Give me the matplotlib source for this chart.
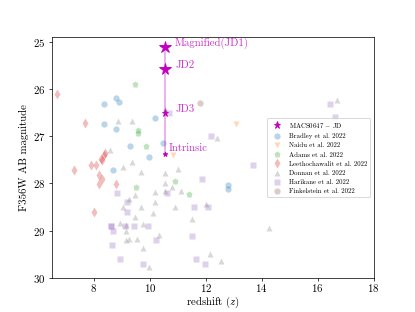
import matplotlib
matplotlib.use('Agg')
import matplotlib.pyplot as plt

plt.rcParams['font.family'] = 'serif'
plt.rcParams['font.serif'] = ['cmr10']
plt.rcParams['mathtext.fontset'] = 'cm'
plt.rcParams['axes.formatter.use_mathtext'] = True

# MACS0647-JD
jd_z = [10.56, 10.56, 10.56, 10.56]
jd_mag = [25.11, 25.56, 26.50, 27.37]
jd_names = ['Magnified(JD1)', 'JD2', 'JD3', 'Intrinsic']

bradley_z = [8.79, 8.89, 8.38, 8.38, 8.79, 10.19, 9.29, 9.99, 10.48, 8.68, 12.79, 12.79]
bradley_mag = [26.18, 26.27, 26.32, 26.73, 26.84, 26.60, 27.20, 27.44, 27.14, 27.71, 28.03, 28.12]

naidu_z = [13.1, 10.83]
naidu_mag = [26.74, 27.39]

adams_z = [9.49, 9.57, 9.57, 9.85, 9.50, 10.92, 11.40]
adams_mag = [25.88, 26.87, 26.92, 27.21, 28.08, 27.95, 28.23]

leetho_z = [6.69, 7.69, 8.37, 8.40, 8.27, 8.29, 7.29, 7.89, 8.08, 8.19, 8.29, 8.19, 8.79, 7.99]
leetho_mag = [26.11, 26.72, 27.39, 27.36, 27.49, 27.51, 27.71, 27.61, 27.61, 27.81, 27.91, 28.02, 28.02, 28.60]

donnan_z = [8.85, 9.35, 10.54, 12.42, 16.71, 8.57, 9.04, 9.35, 9.67, 10.56, 11.01, 10.56,
            10.80, 10.56, 11.13, 10.20, 9.25, 9.46, 10.20, 9.68, 9.05, 10.89, 12.00, 9.46,
            10.10, 11.51, 8.95, 9.14, 9.14, 9.76, 10.33, 9.14, 9.25, 9.55, 9.76, 9.99,
            12.14, 12.54, 14.26]
donnan_mag = [26.68, 26.68, 26.41, 27.04, 26.22, 27.30, 27.64, 27.54, 27.76, 27.78, 27.69, 28.00,
              28.08, 28.15, 28.15, 28.18, 28.32, 28.25, 28.40, 28.50, 28.50, 28.50, 28.43, 28.71,
              28.62, 28.75, 28.84, 28.89, 29.00, 28.85, 29.10, 29.20, 29.17, 29.17, 29.37, 29.77,
              29.49, 29.65, 28.95]

harikane_z = [10.68, 12.20, 16.44, 16.64, 13.69, 11.87, 12.08, 11.99, 10.63, 11.57, 11.51, 10.21,
              11.67, 8.83, 9.20, 9.20, 8.61, 8.63, 8.69, 9.10, 9.44, 9.94, 8.65, 8.95, 9.76]
harikane_mag = [26.50, 27.00, 26.31, 26.58, 27.61, 27.91, 28.51, 29.71, 28.21, 28.51, 29.11, 29.21,
                29.60, 28.20, 28.40, 28.60, 28.91, 28.90, 29.01, 28.91, 28.91, 28.91, 29.30, 29.60, 29.71]

finkel_z = [11.79]
finkel_mag = [26.30]

fig = plt.figure(figsize=(415 / 65, 312 / 65), dpi=65)
ax = fig.add_subplot(111)

ax.plot(jd_z, jd_mag, '-', color='m', alpha=0.3, lw=2.2, zorder=3)
star_sizes = [14, 13, 8, 5.5]
for z, m, s in zip(jd_z, jd_mag, star_sizes):
    ax.plot(z, m, '*', color='m', ms=s, zorder=4)
ax.plot([], [], '*', color='m', ms=8, label=r'MACS0647 $-$ JD')

offsets = [(0.33, -0.09), (0.38, -0.08), (0.36, -0.07), (0.12, -0.11)]
for z, m, name, (dx, dy) in zip(jd_z, jd_mag, jd_names, offsets):
    ax.text(z + dx, m + dy, name, color='m', alpha=0.8, fontsize=12, va='center', ha='left')

a = 0.3
ax.plot(bradley_z, bradley_mag, 'o', color='C0', alpha=a, ms=7, mec='none', label='Bradley et al. 2022')
ax.plot(naidu_z, naidu_mag, 'v', color='C1', alpha=a, ms=7, mec='none', label='Naidu et al. 2022')
ax.plot(adams_z, adams_mag, 'p', color='C2', alpha=a, ms=7, mec='none', label='Adams et al. 2022')
ax.plot(leetho_z, leetho_mag, 'd', color='C3', alpha=a, ms=8, mec='none', label='Leethochawalit et al. 2022')
ax.plot(donnan_z, donnan_mag, '^', color='C7', alpha=a, ms=7, mec='none', label='Donnan et al. 2022')
ax.plot(harikane_z, harikane_mag, 's', color='C4', alpha=a, ms=7, mec='none', label='Harikane et al. 2022')
ax.plot(finkel_z, finkel_mag, 'o', color='C5', alpha=a, ms=7, mec='none', label='Finkelstein et al. 2022')

ax.set_xlim(6.5, 18)
ax.set_ylim(30, 24.9)
ax.set_xticks([8, 10, 12, 14, 16, 18])
ax.set_yticks([25, 26, 27, 28, 29, 30])
ax.tick_params(labelsize=12)
ax.tick_params(axis='x', pad=1.5)
ax.set_xlabel(r'redshift ($z$)', fontsize=12, labelpad=1)
ax.set_ylabel('F356W AB magnitude', fontsize=12)
ax.legend(loc='center right', fontsize=7.5)

plt.savefig('out.png', dpi=65)
